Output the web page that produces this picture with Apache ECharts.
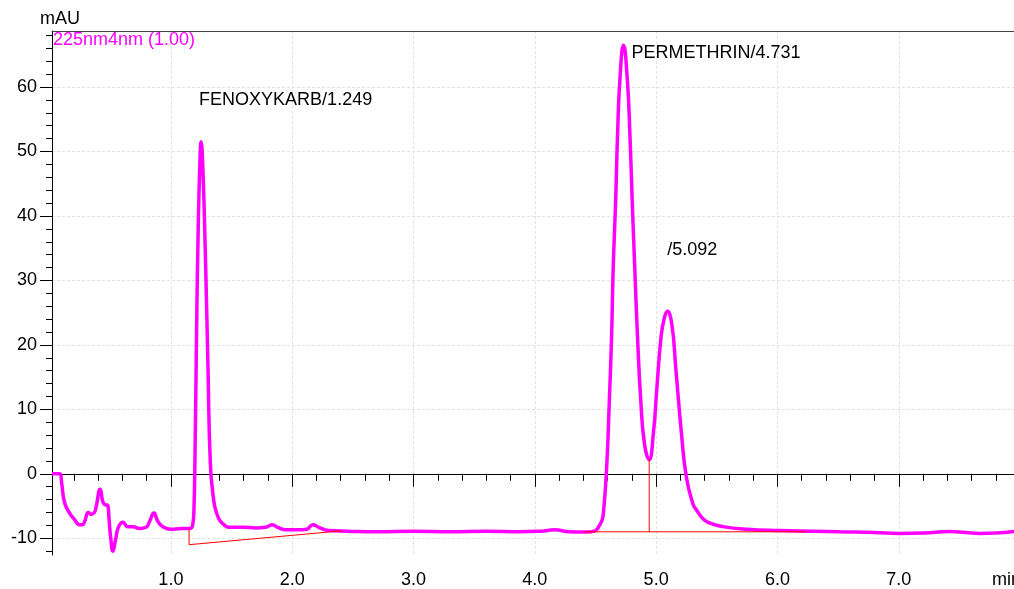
<!DOCTYPE html>
<html>
<head>
<meta charset="utf-8">
<script src="https://cdn.jsdelivr.net/npm/echarts@6/dist/echarts.min.js"></script>
<style>
  html, body { margin: 0; padding: 0; background: #ffffff; }
  #chart { width: 1014px; height: 589px; }
</style>
</head>
<body>
<div id="chart"></div>
<script>
// Detector trace: retention time (min) and absorbance (mAU)
const times = [
  0.02, 0.085, 0.10, 0.124, 0.165, 0.206, 0.247, 0.27, 0.289, 0.32,
  0.345, 0.37, 0.384, 0.417, 0.44, 0.458, 0.48, 0.49, 0.503, 0.522,
  0.544, 0.569, 0.604, 0.645, 0.687, 0.742, 0.796, 0.824, 0.86, 0.893,
  0.934, 1.0, 1.085, 1.154, 1.18, 1.19, 1.198, 1.212, 1.225, 1.239,
  1.249, 1.262, 1.286, 1.305, 1.325, 1.349, 1.377, 1.43, 1.5, 1.6,
  1.7, 1.78, 1.835, 1.88, 1.95, 2.05, 2.12, 2.17, 2.22, 2.3,
  2.45, 2.7, 3.0, 3.3, 3.6, 3.88, 4.05, 4.166, 4.28, 4.43,
  4.49, 4.52, 4.55, 4.564, 4.592, 4.614, 4.633, 4.646, 4.666, 4.682,
  4.702, 4.731, 4.762, 4.784, 4.803, 4.824, 4.846, 4.874, 4.905, 4.943,
  4.976, 5.008, 5.042, 5.068, 5.092, 5.13, 5.162, 5.21, 5.251, 5.306,
  5.333, 5.388, 5.45, 5.55, 5.75, 6.02, 6.29, 6.52, 6.8, 7.01,
  7.2, 7.42, 7.55, 7.67, 7.8, 7.95
];
const signal = [
  0, 0, -1.5, -4.5, -6.1, -7.1, -7.9, -7.9, -7.4, -6.0,
  -6.3, -6.0, -5.1, -2.4, -4.4, -4.8, -4.9, -7.0, -9.7, -12.0,
  -10.2, -8.2, -7.5, -8.2, -8.2, -8.5, -8.3, -7.4, -6.1, -7.4,
  -8.2, -8.6, -8.5, -8.5, -7.9, -5.5, 1.7, 22.3, 37.8, 48.2,
  51.5, 48.2, 32.7, 17.2, 1.7, -3.5, -6.1, -7.8, -8.3, -8.3,
  -8.4, -8.3, -7.9, -8.3, -8.7, -8.7, -8.6, -7.9, -8.3, -8.8,
  -8.9, -9.0, -8.9, -9.0, -8.9, -9.0, -8.9, -8.7, -9.0, -9.05,
  -8.9, -8.4, -7.4, -6.4, 0.9, 11.2, 21.5, 31.9, 42.2, 52.6,
  61.3, 66.5, 61.3, 52.6, 42.2, 31.9, 21.5, 11.2, 4.5, 2.2,
  6.0, 13.8, 21.5, 24.2, 25.2, 23.1, 16.4, 6.0, -0.7, -4.8,
  -5.6, -7.0, -7.7, -8.2, -8.6, -8.8, -8.9, -9.0, -9.1, -9.25,
  -9.2, -8.95, -9.1, -9.25, -9.2, -8.95
];

// Identified peaks
const peakNames = ['FENOXYKARB', 'PERMETHRIN', ''];
const peakTimes = [1.249, 4.731, 5.092];
const peakHeights = [51.5, 66.5, 25.2];

// Integration baselines
const baseline1Times = [1.15, 1.15, 2.41];
const baseline1Values = [-8.5, -11.0, -8.85];
const baseline2Times = [4.41, 6.24];
const baseline2Values = [-9.0, -9.0];
const dropTimes = [4.943, 4.943];
const dropValues = [-9.0, 2.2];

// Axis ticks
const yMajorTicks = [-10, 0, 10, 20, 30, 40, 50, 60];
const yMinorTicks = [-12, -8, -6, -4, -2, 2, 4, 6, 8, 12, 14, 16, 18, 22, 24, 26, 28,
  32, 34, 36, 38, 42, 44, 46, 48, 52, 54, 56, 58, 62, 64, 66, 68];
const xMajorTicks = [1, 2, 3, 4, 5, 6, 7];
const xMinorTicks = [0.2, 0.4, 0.6, 0.8, 1.2, 1.4, 1.6, 1.8, 2.2, 2.4, 2.6, 2.8,
  3.2, 3.4, 3.6, 3.8, 4.2, 4.4, 4.6, 4.8, 5.2, 5.4, 5.6, 5.8, 6.2, 6.4, 6.6, 6.8,
  7.2, 7.4, 7.6, 7.8];

const traceName = '225nm4nm (1.00)';
const yUnit = 'mAU';
const xUnit = 'min';

const X_MIN = 0.02, X_MAX = 7.95, Y_MIN = -12.6, Y_MAX = 68.7;
const FONT = 'Liberation Sans, Arial, sans-serif';
const TEXT = '#000000';
const labelOffsets = [[-2, -42], [8, 8], [0, -61]];

const pairs = (xs, ys) => xs.map((x, i) => [x, ys[i]]);
const gridDash = { color: '#e2e2e2', width: 1, type: [3, 2] };

const chart = echarts.init(document.getElementById('chart'), null, { renderer: 'canvas' });

const baselineSeries = (name, xs, ys) => ({
  name: name,
  type: 'line',
  data: pairs(xs, ys),
  showSymbol: false,
  symbol: 'none',
  silent: true,
  z: 4,
  lineStyle: { color: '#ff0000', width: 1 }
});

chart.setOption({
  animation: false,
  backgroundColor: '#ffffff',
  textStyle: { fontFamily: FONT },
  grid: { left: 52, right: 0, top: 31, bottom: 34, containLabel: false },
  legend: {
    data: [{ name: traceName, icon: 'none' }],
    left: 48, top: 31, padding: 0, itemWidth: 0, itemHeight: 0,
    selectedMode: false,
    textStyle: { color: '#ff00ff', fontSize: 18, fontFamily: FONT }
  },
  xAxis: [
    {
      type: 'value', min: X_MIN, max: X_MAX, position: 'bottom', splitNumber: 8,
      axisLine: { show: true, lineStyle: { color: '#000', width: 1 } },
      axisTick: { show: true, customValues: xMajorTicks, length: 13, lineStyle: { color: '#000' } },
      axisLabel: {
        show: true, customValues: xMajorTicks, margin: 16, fontSize: 18, color: TEXT,
        fontFamily: FONT, formatter: v => v.toFixed(1)
      },
      splitLine: { show: true, lineStyle: gridDash }
    },
    {
      type: 'value', min: X_MIN, max: X_MAX, position: 'bottom',
      axisLine: { show: false },
      axisTick: { show: true, customValues: xMinorTicks, length: 7, lineStyle: { color: '#000' } },
      axisLabel: { show: false },
      splitLine: { show: false }
    },
    {
      type: 'value', min: X_MIN, max: X_MAX, position: 'top',
      axisLine: { show: true, lineStyle: { color: '#444', width: 1 } },
      axisTick: { show: false }, axisLabel: { show: false }, splitLine: { show: false }
    }
  ],
  yAxis: [
    {
      type: 'value', min: Y_MIN, max: Y_MAX, position: 'left', splitNumber: 8,
      axisLine: { show: true, lineStyle: { color: '#000', width: 1 } },
      axisTick: { show: true, customValues: yMajorTicks, length: 12, lineStyle: { color: '#000' } },
      axisLabel: { show: true, customValues: yMajorTicks, margin: 15, fontSize: 18, color: TEXT, fontFamily: FONT },
      splitLine: { show: true, lineStyle: gridDash }
    },
    {
      type: 'value', min: Y_MIN, max: Y_MAX, position: 'left',
      axisLine: { show: false },
      axisTick: { show: true, customValues: yMinorTicks, length: 6, lineStyle: { color: '#000' } },
      axisLabel: { show: false },
      splitLine: { show: false }
    }
  ],
  series: [
    {
      name: traceName,
      type: 'line',
      data: pairs(times, signal),
      showSymbol: false,
      symbol: 'none',
      smooth: 0.5,
      z: 3,
      lineStyle: { color: '#ff00ff', width: 3.5 },
      itemStyle: { color: '#ff00ff' }
    },
    baselineSeries('baseline-a', baseline1Times, baseline1Values),
    baselineSeries('baseline-b', baseline2Times, baseline2Values),
    baselineSeries('drop', dropTimes, dropValues),
    {
      name: 'peaks',
      type: 'scatter',
      symbolSize: 0,
      itemStyle: { color: '#000', opacity: 1 },
      silent: true,
      z: 5,
      data: peakTimes.map((t, i) => ({
        value: [t, peakHeights[i]],
        name: peakNames[i],
        label: { offset: labelOffsets[i] }
      })),
      label: {
        show: true,
        position: 'right',
        distance: 0,
        fontSize: 18,
        fontFamily: FONT,
        color: TEXT,
        opacity: 1,
        formatter: p => p.name + '/' + p.value[0].toFixed(3)
      }
    }
  ],
  graphic: [
    {
      type: 'text', left: 40, top: 10,
      style: { text: yUnit, fontSize: 18, fontFamily: FONT, fill: TEXT }
    },
    {
      type: 'text', left: 992, top: 571,
      style: { text: xUnit, fontSize: 18, fontFamily: FONT, fill: TEXT }
    }
  ]
});
</script>
</body>
</html>
